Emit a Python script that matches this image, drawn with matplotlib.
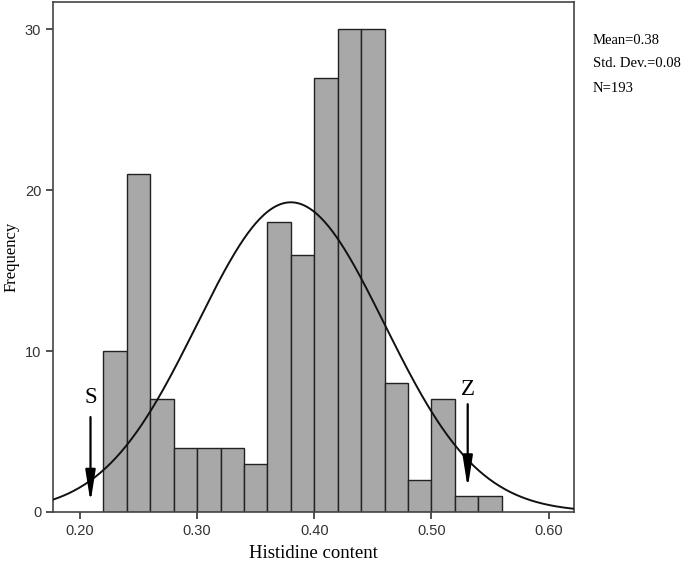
import numpy as np
import matplotlib.pyplot as plt

# histogram bins (width 0.02) and counts
bin_edges = np.round(np.arange(0.22, 0.5601, 0.02), 2)
counts = [10, 21, 7, 4, 4, 4, 3, 18, 16, 27, 30, 30, 8, 2, 7, 1, 1]

mean = 0.38
sd = 0.08
n = 193
xticks = [0.20, 0.30, 0.40, 0.50, 0.60]
yticks = [0, 10, 20, 30]

serif = 'Liberation Serif'
sans = 'Liberation Sans'

fig = plt.figure(figsize=(6.85, 5.64), dpi=100)
ax = fig.add_axes([0.0774, 0.0922, 0.761, 0.9043])

widths = np.diff(bin_edges)
ax.bar(bin_edges[:-1], counts, width=widths, align='edge',
       color='#a8a8a8', edgecolor='#222222', linewidth=1.0, zorder=2)

# normal curve scaled to counts
x0, x1 = 0.177, 0.622
xs = np.linspace(x0, x1, 400)
bw = 0.02
ys = n * bw / (sd * np.sqrt(2 * np.pi)) * np.exp(-0.5 * ((xs - mean) / sd) ** 2)
ax.plot(xs, ys, color='#111111', linewidth=1.4, zorder=3)

# arrows S and Z
arr = dict(arrowstyle='-|>,head_length=1.9,head_width=0.3',
           color='black', lw=1.6, shrinkA=0, shrinkB=0)
ax.annotate('', xy=(0.209, 0.6), xytext=(0.209, 5.9), arrowprops=arr, zorder=4)
ax.text(0.209, 6.8, 'S', ha='center', va='baseline', fontsize=16.5, family=serif)
ax.annotate('', xy=(0.531, 1.5), xytext=(0.531, 6.7), arrowprops=arr, zorder=4)
ax.text(0.531, 7.3, 'Z', ha='center', va='baseline', fontsize=16.5, family=serif)

ax.set_xlim(x0, x1)
ax.set_ylim(0, 31.7)
ax.set_xticks(xticks)
ax.set_xticklabels([f'{t:.2f}' for t in xticks], family=sans, fontsize=10.5, color='#333333')
ax.set_yticks(yticks)
ax.set_yticklabels([str(t) for t in yticks], family=sans, fontsize=10.5, color='#333333')
ax.tick_params(direction='out', length=5, width=1.2, color='#333333')
for side in ax.spines.values():
    side.set_linewidth(1.2)
    side.set_color('#444444')

ax.set_xlabel('Histidine content', family=serif, fontsize=13.5, labelpad=5)
ax.set_ylabel('Frequency', family=serif, fontsize=12, labelpad=4)

stats = [f'Mean={mean:.2f}', f'Std. Dev.={sd:.2f}', f'N={n}']
for i, s in enumerate(stats):
    fig.text(593 / 685, 1 - (40 + 24 * i) / 564, s, family=serif, fontsize=10.5,
             va='center', ha='left')

fig.savefig('out.png', dpi=100)
